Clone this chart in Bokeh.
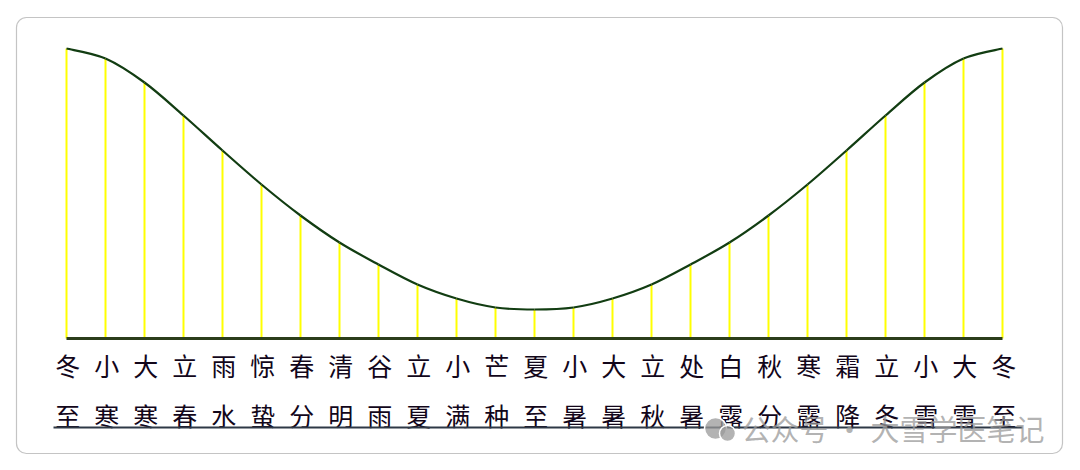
from bokeh.plotting import figure
from bokeh.models import Range1d
from bokeh.embed import file_html
from bokeh.resources import INLINE
from bokeh.core.properties import value

# 24 solar terms (plus the closing Winter Solstice): first / second characters
terms_top = ["冬", "小", "大", "立", "雨", "惊", "春", "清", "谷", "立", "小", "芒", "夏",
             "小", "大", "立", "处", "白", "秋", "寒", "霜", "立", "小", "大", "冬"]
terms_bottom = ["至", "寒", "寒", "春", "水", "蛰", "分", "明", "雨", "夏", "满", "种", "至",
                "暑", "暑", "秋", "暑", "露", "分", "露", "降", "冬", "雪", "雪", "至"]
# noon shadow length (relative units) at each term
shadow = [290, 280, 256, 223, 188, 154, 123, 96, 74, 54, 40, 31, 29,
          31, 40, 54, 74, 96, 123, 154, 188, 223, 256, 280, 290]
watermark = "公众号 · 大雪学医笔记"

idx = list(range(len(shadow)))
n = len(idx)

# smooth curve pieces (Catmull-Rom as cubic Bezier) through the data points
def _get(arr, k):
    return arr[min(max(k, 0), n - 1)]

bx0, by0, bx1, by1, bcx0, bcy0, bcx1, bcy1 = [], [], [], [], [], [], [], []
for i in range(n - 1):
    bx0.append(idx[i]); by0.append(shadow[i])
    bx1.append(idx[i + 1]); by1.append(shadow[i + 1])
    bcx0.append(idx[i] + (_get(idx, i + 1) - _get(idx, i - 1)) / 6)
    bcy0.append(shadow[i] + (_get(shadow, i + 1) - _get(shadow, i - 1)) / 6)
    bcx1.append(idx[i + 1] - (_get(idx, i + 2) - _get(idx, i)) / 6)
    bcy1.append(shadow[i + 1] - (_get(shadow, i + 2) - _get(shadow, i)) / 6)

FW, FH = 1064, 454
PX = 39.0  # pixels per term
x0 = -58 / PX
p = figure(width=FW + 8, height=FH + 8, output_backend="svg", toolbar_location=None,
           x_range=Range1d(x0, x0 + FW / PX), y_range=Range1d(-124, 330),
           min_border_left=8, min_border_top=8, min_border_right=0, min_border_bottom=0,
           outline_line_color=None, background_fill_color="white",
           border_fill_color="white")
p.axis.visible = False
p.grid.visible = False

# rounded frame
p.quad(left=[-50 / PX], right=[996 / PX], top=[321], bottom=[-115],
       fill_color=None, line_color="#c4c4c4", line_width=1.2, border_radius=10)

# yellow verticals
p.segment(x0=idx, y0=[0] * n, x1=idx, y1=shadow, line_color="#ffff00", line_width=2)
# baseline
p.line(x=[idx[0], idx[-1]], y=[0, 0], line_color="#2b3d1b", line_width=3)
# curve
p.bezier(x0=bx0, y0=by0, x1=bx1, y1=by1, cx0=bcx0, cy0=bcy0, cx1=bcx1, cy1=bcy1,
         line_color="#123d12", line_width=2.2)

# labels
p.text(x=[i + 0.03 for i in idx], y=[-26] * n, text=terms_top,
       text_font=value("Noto Sans CJK SC"), text_font_size="25px",
       text_align="center", text_baseline="middle", text_color="#12061a")
p.text(x=[i + 0.03 for i in idx], y=[-76] * n, text=terms_bottom,
       text_font=value("Noto Sans CJK SC"), text_font_size="25px",
       text_align="center", text_baseline="middle", text_color="#12061a")
# bottom rule
p.line(x=[-13 / PX, 956 / PX], y=[-89, -89], line_color="#2e3846", line_width=2)

# watermark
p.scatter(x=[(715 - 66) / PX, (727 - 66) / PX], y=[-90, -95], size=[22, 16],
          fill_color="#9a9a9a", line_color="white", line_width=1.5, fill_alpha=0.75)
p.text(x=[(741 - 66) / PX], y=[-89], text=[watermark],
       text_font=value("Noto Sans CJK SC"), text_font_size="29px",
       text_align="left", text_baseline="middle", text_color="#9a9a9a", text_alpha=0.75)

open("out.html", "w").write(file_html(p, INLINE))
